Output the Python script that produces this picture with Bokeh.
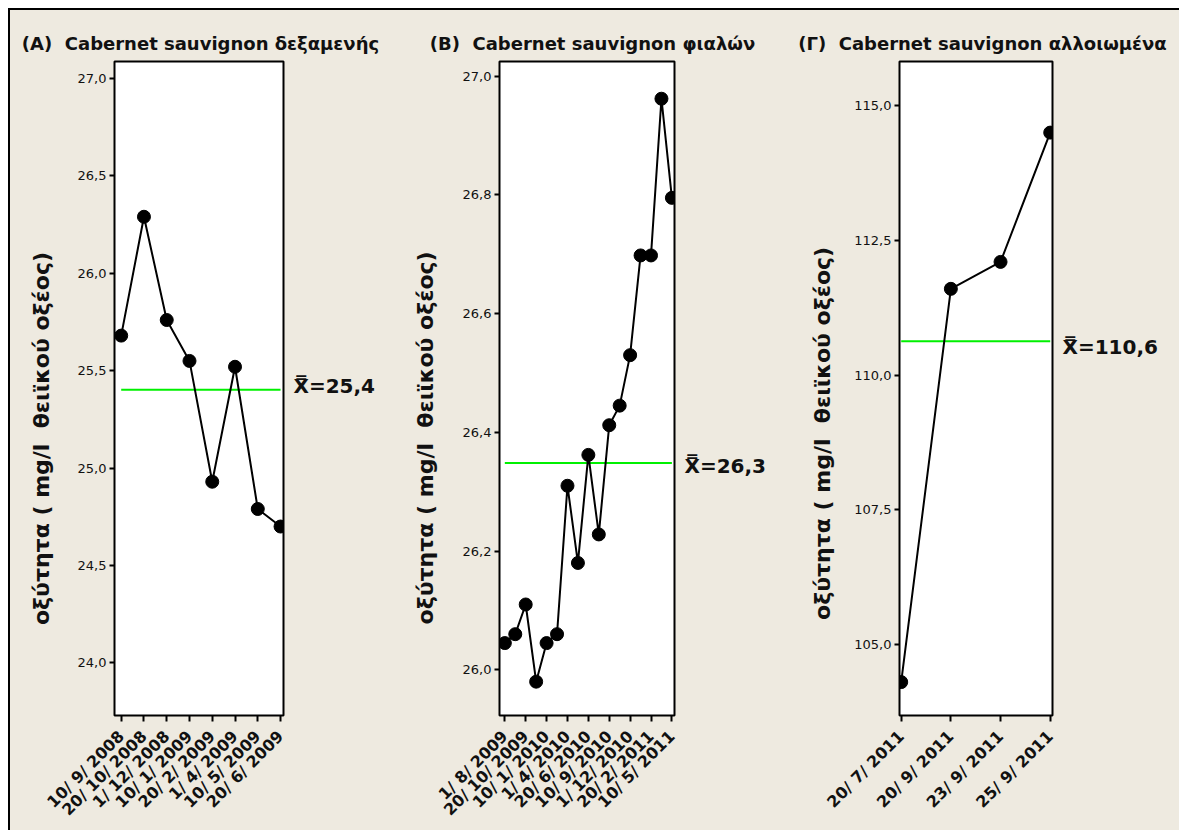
import json
import numpy as np
from bokeh.plotting import figure
from bokeh.models import FixedTicker, Range1d, CustomJSTickFormatter, LinearAxis
from bokeh.layouts import row
from bokeh.embed import file_html
from bokeh.resources import INLINE

# ---------------- data ----------------
dates_a = ["10/ 9/ 2008", "20/ 10/ 2008", "1/ 12/ 2008", "10/ 1/ 2009",
           "20/ 2/ 2009", "1/ 4/ 2009", "10/ 5/ 2009", "20/ 6/ 2009"]
acid_a = [25.68, 26.29, 25.76, 25.55, 24.93, 25.52, 24.79, 24.70]

dates_b = ["1/ 8/ 2009", "20/ 10/ 2009", "10/ 1/ 2010", "1/ 4/ 2010", "20/ 6/ 2010",
           "10/ 9/ 2010", "1/ 12/ 2010", "20/ 2/ 2011", "10/ 5/ 2011"]
acid_b = [26.045, 26.060, 26.110, 25.980, 26.045, 26.060, 26.310, 26.180, 26.362,
          26.228, 26.412, 26.445, 26.530, 26.698, 26.698, 26.962, 26.795]

dates_c = ["20/ 7/ 2011", "20/ 9/ 2011", "23/ 9/ 2011", "25/ 9/ 2011"]
acid_c = [104.3, 111.6, 112.1, 114.5]

yticks_a = [24.0, 24.5, 25.0, 25.5, 26.0, 26.5, 27.0]
yticks_b = [26.0, 26.2, 26.4, 26.6, 26.8, 27.0]
yticks_c = [105.0, 107.5, 110.0, 112.5, 115.0]

NB = "\u00a0"
titles = ["(A)" + NB + " Cabernet sauvignon δεξαμενής",
          "(B)" + NB + " Cabernet sauvignon φιαλών",
          "(Γ)" + NB + " Cabernet sauvignon αλλοιωμένα"]
ylabel = "οξύτητα ( mg/l" + NB + " θειϊκού οξέος)"

BG = "#EEEAE0"
FONT = "DejaVu Sans"
INK = "#111111"
H = 820
TOP = 10  # page y of figure top (8px margin + 2px border)

panels = [
    dict(title=titles[0], vals=acid_a, labels=dates_a, tick_idx=list(range(1, 9)),
         yticks=yticks_a, fig_left=10, fig_w=385, frame=(114, 283, 61, 715),
         xr=(0.706, 8.13), yr=(23.73, 27.087), title_cx=200, ytitle_sd=21, mean_dy=3.5),
    dict(title=titles[1], vals=acid_b, labels=dates_b, tick_idx=list(range(1, 18, 2)),
         yticks=yticks_b, fig_left=395, fig_w=395, frame=(499, 674, 61, 716),
         xr=(0.49, 17.25), yr=(25.923, 27.0247), title_cx=592, ytitle_sd=21, mean_dy=-3),
    dict(title=titles[2], vals=acid_c, labels=dates_c, tick_idx=list(range(1, 5)),
         yticks=yticks_c, fig_left=790, fig_w=389, frame=(899, 1052, 61, 724),
         xr=(0.966, 4.046), yr=(103.68, 115.82), title_cx=982, ytitle_sd=16, mean_dy=-6),
]


def to_data(cfg, px, py):
    fx0, fx1, fy0, fy1 = cfg["frame"]
    x0, x1 = cfg["xr"]
    y0, y1 = cfg["yr"]
    x = x0 + (px - fx0) / (fx1 - fx0) * (x1 - x0)
    y = y1 - (py - fy0) / (fy1 - fy0) * (y1 - y0)
    return x, y


def text_axis(tick, text, size, standoff, orientation="horizontal"):
    ax = LinearAxis(ticker=FixedTicker(ticks=[tick]),
                    formatter=CustomJSTickFormatter(code="return " + json.dumps(text) + ";"))
    ax.axis_line_color = None
    ax.major_tick_line_color = None
    ax.minor_tick_line_color = None
    ax.major_tick_in = 0
    ax.major_tick_out = 0
    ax.major_label_standoff = standoff
    ax.major_label_orientation = orientation
    ax.major_label_text_font = FONT
    ax.major_label_text_font_style = "bold"
    ax.major_label_text_font_size = size
    ax.major_label_text_color = INK
    return ax


figs = []
for cfg in panels:
    fx0, fx1, fy0, fy1 = cfg["frame"]
    fl, fw = cfg["fig_left"], cfg["fig_w"]
    p = figure(width=fw, height=H, x_range=Range1d(*cfg["xr"]), y_range=Range1d(*cfg["yr"]),
               output_backend="svg", toolbar_location=None,
               min_border_left=fx0 - fl, min_border_right=fl + fw - fx1,
               min_border_top=fy0 - TOP, min_border_bottom=TOP + H - fy1)
    p.border_fill_color = BG
    p.background_fill_color = "white"
    p.outline_line_color = "black"
    p.outline_line_width = 2
    p.xgrid.visible = False
    p.ygrid.visible = False

    xs = list(range(1, len(cfg["vals"]) + 1))
    mean = float(np.mean(cfg["vals"]))
    p.line([xs[0], xs[-1]], [mean, mean], line_color="#00F000", line_width=2)
    p.line(xs, cfg["vals"], line_color="black", line_width=2)
    p.scatter(xs, cfg["vals"], size=13, color="black")

    # y axis
    ya = p.yaxis[0]
    ya.ticker = FixedTicker(ticks=cfg["yticks"])
    ya.formatter = CustomJSTickFormatter(code="return tick.toFixed(1).replace('.', ',');")
    ya.axis_line_color = None
    ya.major_tick_out = 5
    ya.major_tick_in = 0
    ya.major_tick_line_width = 2
    ya.minor_tick_line_color = None
    ya.major_label_text_font = FONT
    ya.major_label_text_font_size = "13px"
    ya.major_label_text_color = INK
    ya.major_label_standoff = 3

    # x axis
    xa = p.xaxis[0]
    xa.ticker = FixedTicker(ticks=cfg["tick_idx"])
    xa.major_label_overrides = {t: lab for t, lab in zip(cfg["tick_idx"], cfg["labels"])}
    xa.axis_line_color = None
    xa.major_tick_out = 6
    xa.major_tick_in = 0
    xa.major_tick_line_width = 2
    xa.minor_tick_line_color = None
    xa.major_label_orientation = np.pi / 4
    xa.major_label_text_font = FONT
    xa.major_label_text_font_style = "bold"
    xa.major_label_text_font_size = "16px"
    xa.major_label_text_color = INK
    xa.major_label_standoff = 12

    # panel title (a one-tick axis above the frame)
    tx, _ = to_data(cfg, cfg["title_cx"], 0)
    p.add_layout(text_axis(tx, cfg["title"], "18px", 8), "above")
    # y axis title (a one-tick axis outside the value axis)
    _, ly = to_data(cfg, 0, 438)
    p.add_layout(text_axis(ly, ylabel, "22px", cfg["ytitle_sd"], "vertical"), "left")
    # grand-mean label on the right
    ppu = (fy1 - fy0) / (cfg["yr"][1] - cfg["yr"][0])
    mtxt = "X\u033F=" + f"{mean:.1f}".replace(".", ",")
    p.add_layout(text_axis(mean + cfg["mean_dy"] / ppu, mtxt, "20px", 10), "right")
    figs.append(p)

layout = row(*figs, styles={"margin-left": "8px", "margin-top": "8px",
                            "padding-top": "2px", "padding-left": "2px",
                            "background-color": BG,
                            "box-shadow": "inset 2px 2px 0 0 black"})

open("out.html", "w").write(file_html(layout, INLINE))
